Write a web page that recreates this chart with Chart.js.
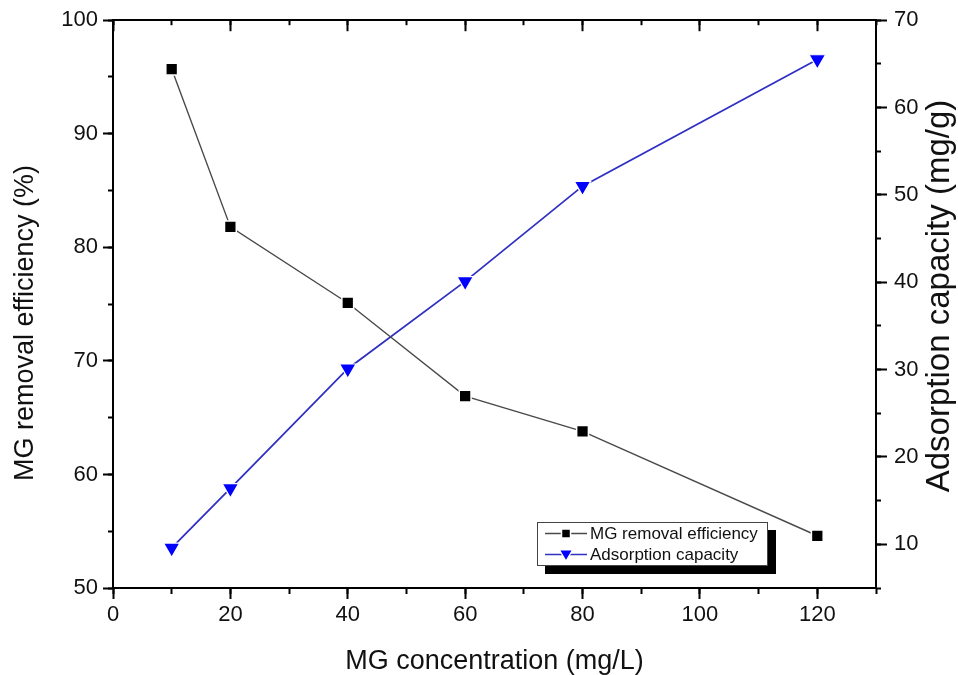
<!DOCTYPE html>
<html>
<head>
<meta charset="utf-8">
<script src="https://cdn.jsdelivr.net/npm/chart.js@4.4.1/dist/chart.umd.min.js"></script>
<style>
  body { margin: 0; background: #fff; }
  #wrap { position: relative; width: 958px; height: 675px; }
  #legend {
    position: absolute; left: 537px; top: 522px; width: 229px; height: 42px;
    border: 1px solid #444; background: #fff; box-shadow: 8px 8px 0 #000;
    font: 17px "Liberation Sans", Arial, sans-serif; color: #111;
  }
  #legend .row { display: flex; align-items: center; height: 21px; padding-left: 7px; }
  #legend svg { margin-right: 3px; }
</style>
</head>
<body>
<div id="wrap">
  <canvas id="chart" width="958" height="675"></canvas>
  <div id="legend"></div>
</div>
<script>
const FONT = '"Liberation Sans", Arial, sans-serif';
const TEXT_COLOR = '#111';

// MG concentration (mg/L)
const concentration = [10, 20, 40, 60, 80, 120];
// MG removal efficiency (%)
const removalEff = [95.7, 81.8, 75.1, 66.9, 63.8, 54.6];
// Adsorption capacity (mg/g)
const adsorptionCap = [9.6, 16.4, 30.1, 40.1, 51.0, 65.5];

const xRange = { min: 0, max: 130, step: 20, minor: 10 };
const yRange = { min: 50, max: 100, step: 10, minor: 5 };
const y1Range = { min: 5, max: 70, step: 10, minor: 5 };

const xTitle = 'MG concentration (mg/L)';
const yTitle = 'MG removal efficiency (%)';
const y1Title = 'Adsorption capacity (mg/g)';

const toPoints = (xs, ys) => xs.map((x, i) => ({ x, y: ys[i] }));

// fix the size of each axis box so the plot area sits where the original does
const fixedSize = sz => s => { if (s.isHorizontal()) s.height = sz; else s.width = sz; };

const tickFont = { family: FONT, size: 22 };

function majorAxis(pos, range, tickLen, pad, size, showLabels) {
  return {
    type: 'linear', position: pos, weight: 1,
    min: range.min, max: range.max,
    ticks: { display: showLabels, stepSize: range.step, includeBounds: false, color: TEXT_COLOR, font: tickFont, padding: pad, maxRotation: 0 },
    grid: { drawOnChartArea: false, tickLength: tickLen, tickWidth: 2, tickColor: '#000' },
    border: { display: true, color: '#000', width: 2 },
    afterFit: fixedSize(size)
  };
}
function minorAxis(pos, range, tickLen) {
  return {
    type: 'linear', position: pos, weight: 0,
    min: range.min, max: range.max,
    ticks: { display: false, stepSize: range.minor },
    grid: { drawOnChartArea: false, tickLength: tickLen, tickWidth: 2, tickColor: '#000' },
    border: { display: false },
    afterFit: fixedSize(0)
  };
}

const xAxis = majorAxis('bottom', xRange, 11, 3, 87, true);
xAxis.title = { display: true, text: xTitle, color: TEXT_COLOR, font: { family: FONT, size: 27, lineHeight: 1 }, padding: 0 };

// both side titles read bottom-to-top, as in the original
const verticalTitles = {
  id: 'verticalTitles',
  afterDraw(chart) {
    const { ctx } = chart;
    const ys = chart.scales.y, y1s = chart.scales.y1;
    ctx.save();
    ctx.fillStyle = TEXT_COLOR;
    ctx.textAlign = 'center';
    ctx.textBaseline = 'middle';
    [[ys.left + 26, 323, yTitle, 27], [y1s.right - 18, 296, y1Title, 33]].forEach(([x, y, t, size]) => {
      ctx.save();
      ctx.font = size + 'px ' + FONT;
      ctx.translate(x, y);
      ctx.rotate(-Math.PI / 2);
      ctx.fillText(t, 0, 0);
      ctx.restore();
    });
    ctx.restore();
  }
};

const chart = new Chart(document.getElementById('chart'), {
  type: 'line',
  data: {
    datasets: [
      {
        label: 'MG removal efficiency',
        data: toPoints(concentration, removalEff),
        yAxisID: 'y', xAxisID: 'x',
        borderColor: '#4a4a4a', borderWidth: 1.4, tension: 0,
        pointStyle: 'rect', pointRadius: 8.3, pointHoverRadius: 8.3,
        pointBackgroundColor: '#000', pointBorderColor: '#fff', pointBorderWidth: 1.5
      },
      {
        label: 'Adsorption capacity',
        data: toPoints(concentration, adsorptionCap),
        yAxisID: 'y1', xAxisID: 'x',
        borderColor: '#3030c4', borderWidth: 1.8, tension: 0,
        pointStyle: 'triangle', pointRotation: 180, pointRadius: 9.5, pointHoverRadius: 9.5,
        pointBackgroundColor: '#0000ff', pointBorderColor: '#fff', pointBorderWidth: 1.2
      }
    ]
  },
  options: {
    responsive: false,
    devicePixelRatio: 1,
    animation: false,
    layout: { padding: 0 },
    plugins: { legend: { display: false }, tooltip: { enabled: false } },
    scales: {
      x: xAxis,
      xMinor: minorAxis('bottom', xRange, 6),
      xTop: majorAxis('top', xRange, -11, 0, 20, false),
      xTopMinor: minorAxis('top', xRange, -5),
      y: majorAxis('left', yRange, 10, 5, 113, true),
      yMinor: minorAxis('left', yRange, 5),
      y1: majorAxis('right', y1Range, 11, 7, 82, true),
      y1Minor: minorAxis('right', y1Range, 5)
    }
  },
  plugins: [verticalTitles]
});

// legend box built from the datasets
function legendMarker(ds) {
  const c = 10.5;
  let shape;
  if (ds.pointStyle === 'rect') {
    shape = `<rect x="${21 - 4.5}" y="${c - 4.5}" width="9" height="9" fill="${ds.pointBackgroundColor}" stroke="#fff" stroke-width="1.5"/>`;
  } else {
    shape = `<polygon points="${21 - 6.5},${c - 4.5} ${21 + 6.5},${c - 4.5} 21,${c + 6.5}" fill="${ds.pointBackgroundColor}" stroke="#fff" stroke-width="1.2"/>`;
  }
  return `<svg width="42" height="21"><line x1="0" y1="${c}" x2="42" y2="${c}" stroke="${ds.borderColor}" stroke-width="1.5"/>${shape}</svg>`;
}
document.getElementById('legend').innerHTML = chart.data.datasets
  .map(ds => `<div class="row">${legendMarker(ds)}<span>${ds.label}</span></div>`).join('');
</script>
</body>
</html>
